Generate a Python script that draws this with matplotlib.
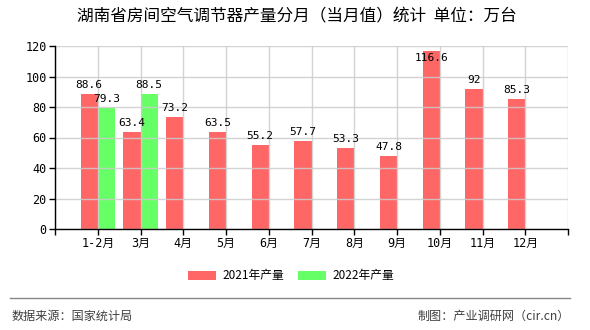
import matplotlib.pyplot as plt
import numpy as np

plt.rcParams['font.family'] = ['Noto Sans CJK SC', 'DejaVu Sans']

months = ['1-2月', '3月', '4月', '5月', '6月', '7月', '8月', '9月', '10月', '11月', '12月']
y2021 = [88.6, 63.4, 73.2, 63.5, 55.2, 57.7, 53.3, 47.8, 116.6, 92, 85.3]
y2022 = [79.3, 88.5]
title = '湖南省房间空气调节器产量分月（当月值）统计  单位：万台'

num_font = ['DejaVu Sans Mono', 'Noto Sans CJK SC']
red = '#ff6666'
green = '#66ff66'

fig = plt.figure(figsize=(5.9, 3.3), dpi=100)
ax = fig.add_axes([55 / 590, 101 / 330, 513 / 590, 183 / 330])

x = np.arange(len(months))
w = 0.4
ax.bar(x - w / 2, y2021, w, color=red, label='2021年产量', zorder=1)
ax.bar(x[:len(y2022)] + w / 2, y2022, w, color=green, label='2022年产量', zorder=1)

def put_label(xp, v):
    if v > 110:
        ax.annotate(f'{v:g}', (xp, v), xytext=(0, -1), textcoords='offset points',
                    ha='center', va='top', fontsize=8, family=num_font, zorder=3)
    else:
        ax.annotate(f'{v:g}', (xp, v), xytext=(0, 3), textcoords='offset points',
                    ha='center', va='bottom', fontsize=8, family=num_font, zorder=3)

for i, v in enumerate(y2021):
    put_label(x[i] - w / 2, v)
for i, v in enumerate(y2022):
    put_label(x[i] + w / 2, v)

ax.set_xlim(-1, len(months))
ax.set_ylim(0, 120)
ax.set_yticks(range(0, 121, 20))
ax.set_xticks(np.arange(-1, len(months) + 1))
ax.set_xticklabels([''] + months + [''], fontsize=8.5, family=num_font)
for lab in ax.get_yticklabels():
    lab.set_fontsize(8.5)
    lab.set_family(num_font)

ax.grid(True, color='#cccccc', linewidth=1, alpha=0.85, zorder=2)
ax.set_axisbelow(False)
for s in ['top', 'right']:
    ax.spines[s].set_visible(False)
for s in ['left', 'bottom']:
    ax.spines[s].set_color('black')
    ax.spines[s].set_linewidth(1)
    ax.spines[s].set_zorder(4)
ax.tick_params(length=4, width=1, color='black', pad=2)

fig.text(297 / 590, 1 - 17 / 330, title, ha='center', va='center', fontsize=12)

fig.legend(loc='center', bbox_to_anchor=(291 / 590, 1 - 276 / 330), ncol=2,
           frameon=False, fontsize=8.5, handlelength=2.4, handleheight=0.9,
           columnspacing=1.2, handletextpad=0.5)

fig.add_artist(plt.Line2D([10 / 590, 570 / 590], [1 - 298 / 330, 1 - 298 / 330],
                          color='#888888', linewidth=1))
fig.text(12 / 590, 1 - 316 / 330, '数据来源：国家统计局', ha='left', va='center',
         fontsize=8.7, color='#404040')
fig.text(570 / 590, 1 - 316 / 330, '制图：产业调研网（cir.cn）', ha='right', va='center',
         fontsize=8.7, color='#404040')

fig.savefig('out.png', dpi=100)
